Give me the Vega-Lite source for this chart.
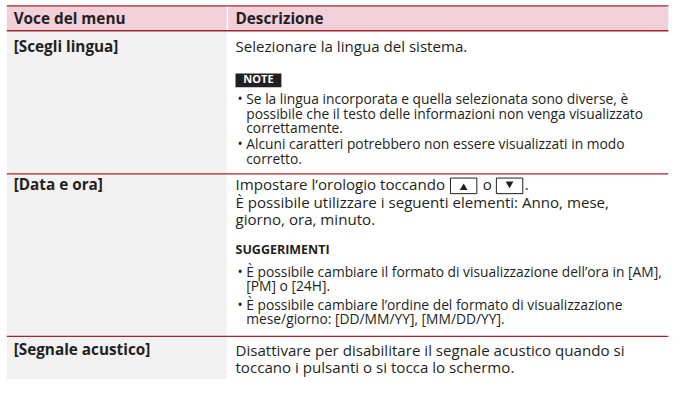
{
  "$schema": "https://vega.github.io/schema/vega-lite/v6.json",
  "width": 684,
  "height": 413,
  "padding": 0,
  "autosize": {"type": "fit", "contains": "padding"},
  "background": "#ffffff",
  "config": {"view": {"stroke": null}},
  "datasets": {
    "bands": [
      {"part": "header", "x0": 7, "x1": 684, "y0": 6.5, "y1": 33.5},
      {"part": "menucol", "x0": 7, "x1": 232, "y0": 33.5, "y1": 413},
      {"part": "divider", "x0": 232, "x1": 233.5, "y0": 6.5, "y1": 33.5},
      {"part": "note", "x0": 241, "x1": 288, "y0": 80, "y1": 95}
    ],
    "icons": [
      {"dir": "up", "x0": 461, "x1": 488, "y0": 194, "y1": 211, "xm": 474.5, "ym": 203.5},
      {"dir": "down", "x0": 508, "x1": 535, "y0": 194, "y1": 211, "xm": 521.5, "ym": 201.5}
    ],
    "rules": [
      {"x0": 7, "x1": 684, "y": 6.5},
      {"x0": 7, "x1": 684, "y": 33.5},
      {"x0": 7, "x1": 684, "y": 189.5},
      {"x0": 7, "x1": 684, "y": 366.5}
    ],
    "lines": [
      {"kind": "head", "x": 14, "y": 21, "text": "Voce del menu"},
      {"kind": "head", "x": 241, "y": 21, "text": "Descrizione"},
      {"kind": "head", "x": 14, "y": 51, "text": "[Scegli lingua]"},
      {"kind": "head", "x": 14, "y": 202, "text": "[Data e ora]"},
      {"kind": "head", "x": 14, "y": 381, "text": "[Segnale acustico]"},
      {"kind": "main", "x": 241, "y": 51, "text": "Selezionare la lingua del sistema."},
      {"kind": "note", "x": 264.5, "y": 87.5, "text": "NOTE"},
      {"kind": "bullet", "x": 243, "y": 109, "text": "•"},
      {"kind": "small", "x": 252, "y": 109, "text": "Se la lingua incorporata e quella selezionata sono diverse, è"},
      {"kind": "small", "x": 252, "y": 125, "text": "possibile che il testo delle informazioni non venga visualizzato"},
      {"kind": "small", "x": 252, "y": 141, "text": "correttamente."},
      {"kind": "bullet", "x": 243, "y": 158, "text": "•"},
      {"kind": "small", "x": 252, "y": 158, "text": "Alcuni caratteri potrebbero non essere visualizzati in modo"},
      {"kind": "small", "x": 252, "y": 174, "text": "corretto."},
      {"kind": "main", "x": 241, "y": 202, "text": "Impostare l’orologio toccando"},
      {"kind": "main", "x": 494, "y": 202, "text": "o"},
      {"kind": "main", "x": 537, "y": 202, "text": "."},
      {"kind": "main", "x": 241, "y": 221, "text": "È possibile utilizzare i seguenti elementi: Anno, mese,"},
      {"kind": "main", "x": 241, "y": 240, "text": "giorno, ora, minuto."},
      {"kind": "label", "x": 241, "y": 272, "text": "SUGGERIMENTI"},
      {"kind": "bullet", "x": 243, "y": 297, "text": "•"},
      {"kind": "small", "x": 252, "y": 297, "text": "È possibile cambiare il formato di visualizzazione dell’ora in [AM],"},
      {"kind": "small", "x": 252, "y": 313, "text": "[PM] o [24H]."},
      {"kind": "bullet", "x": 243, "y": 333, "text": "•"},
      {"kind": "small", "x": 252, "y": 333, "text": "È possibile cambiare l’ordine del formato di visualizzazione"},
      {"kind": "small", "x": 252, "y": 349, "text": "mese/giorno: [DD/MM/YY], [MM/DD/YY]."},
      {"kind": "main", "x": 241, "y": 382, "text": "Disattivare per disabilitare il segnale acustico quando si"},
      {"kind": "main", "x": 241, "y": 401, "text": "toccano i pulsanti o si tocca lo schermo."}
    ]
  },
  "layer": [
    {
      "data": {"name": "bands"},
      "mark": {"type": "rect"},
      "encoding": {
        "x": {"field": "x0", "type": "quantitative", "scale": {"domain": [0, 684], "range": [0, 684]}, "axis": null},
        "x2": {"field": "x1"},
        "y": {"field": "y0", "type": "quantitative", "scale": {"domain": [0, 413], "range": [0, 413]}, "axis": null},
        "y2": {"field": "y1"},
        "color": {"field": "part", "type": "nominal", "legend": null,
          "scale": {"domain": ["header", "menucol", "divider", "note"], "range": ["#f2d0da", "#f2f2f2", "#ffffff", "#231f20"]}}
      }
    },
    {
      "data": {"name": "rules"},
      "mark": {"type": "rule", "color": "#a3262a", "strokeWidth": 1.3},
      "encoding": {
        "x": {"field": "x0", "type": "quantitative"},
        "x2": {"field": "x1"},
        "y": {"field": "y", "type": "quantitative"}
      }
    },
    {
      "data": {"name": "icons"},
      "mark": {"type": "rect", "fill": "#ffffff", "stroke": "#231f20", "strokeWidth": 1},
      "encoding": {
        "x": {"field": "x0", "type": "quantitative"},
        "x2": {"field": "x1"},
        "y": {"field": "y0", "type": "quantitative"},
        "y2": {"field": "y1"}
      }
    },
    {
      "data": {"name": "icons"},
      "mark": {"type": "point", "filled": true, "color": "#231f20", "size": 60, "opacity": 1},
      "encoding": {
        "x": {"field": "xm", "type": "quantitative"},
        "y": {"field": "ym", "type": "quantitative"},
        "shape": {"field": "dir", "type": "nominal", "legend": null,
          "scale": {"domain": ["up", "down"], "range": ["triangle-up", "triangle-down"]}}
      }
    },
    {
      "data": {"name": "lines"},
      "transform": [{"filter": "datum.kind === 'head'"}],
      "mark": {"type": "text", "align": "left", "baseline": "middle", "font": "Open Sans", "fontWeight": "bold", "fontSize": 15.3, "color": "#231f20"},
      "encoding": {
        "x": {"field": "x", "type": "quantitative"},
        "y": {"field": "y", "type": "quantitative"},
        "text": {"field": "text"}
      }
    },
    {
      "data": {"name": "lines"},
      "transform": [{"filter": "datum.kind === 'main'"}],
      "mark": {"type": "text", "align": "left", "baseline": "middle", "font": "Open Sans", "fontSize": 15.1, "color": "#231f20"},
      "encoding": {
        "x": {"field": "x", "type": "quantitative"},
        "y": {"field": "y", "type": "quantitative"},
        "text": {"field": "text"}
      }
    },
    {
      "data": {"name": "lines"},
      "transform": [{"filter": "datum.kind === 'small' || datum.kind === 'bullet'"}],
      "mark": {"type": "text", "align": "left", "baseline": "middle", "font": "Open Sans", "fontSize": 13.8, "color": "#231f20"},
      "encoding": {
        "x": {"field": "x", "type": "quantitative"},
        "y": {"field": "y", "type": "quantitative"},
        "text": {"field": "text"}
      }
    },
    {
      "data": {"name": "lines"},
      "transform": [{"filter": "datum.kind === 'label'"}],
      "mark": {"type": "text", "align": "left", "baseline": "middle", "font": "Open Sans", "fontWeight": "bold", "fontSize": 12.5, "color": "#231f20"},
      "encoding": {
        "x": {"field": "x", "type": "quantitative"},
        "y": {"field": "y", "type": "quantitative"},
        "text": {"field": "text"}
      }
    },
    {
      "data": {"name": "lines"},
      "transform": [{"filter": "datum.kind === 'note'"}],
      "mark": {"type": "text", "align": "center", "baseline": "middle", "font": "Open Sans", "fontWeight": "bold", "fontSize": 11, "color": "#ffffff"},
      "encoding": {
        "x": {"field": "x", "type": "quantitative"},
        "y": {"field": "y", "type": "quantitative"},
        "text": {"field": "text"}
      }
    }
  ]
}
